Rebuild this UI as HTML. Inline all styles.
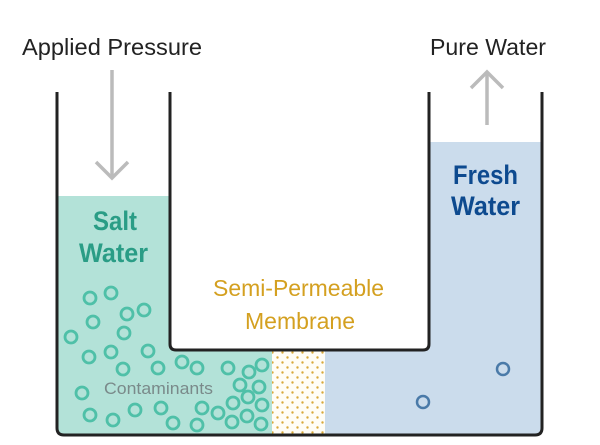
<!DOCTYPE html>
<html><head><style>body{margin:0;background:#fff}svg{display:block}text{font-family:"Liberation Sans Narrow","Liberation Sans",sans-serif}</style></head><body>
<svg width="600" height="445" viewBox="0 0 600 445">
<defs><pattern id="dots" width="10" height="10" patternUnits="userSpaceOnUse"><rect width="10" height="10" fill="#fffdf6"/><circle cx="2.5" cy="2.5" r="1.2" fill="#d9a93a"/><circle cx="7.5" cy="7.5" r="1.2" fill="#d9a93a"/></pattern></defs>
<rect x="58" y="196" width="214" height="238" fill="#b3e2d8"/>
<rect x="325" y="142" width="217" height="292" fill="#cbdcec"/>
<rect x="272" y="350" width="53" height="84" fill="url(#dots)"/>
<path d="M170,92 V344 Q170,350 176,350 H423 Q429,350 429,344 V92" fill="#fff" stroke="#222" stroke-width="3"/>
<path d="M57,92 V428 Q57,435 64,435 H535 Q542,435 542,428 V92" fill="none" stroke="#222" stroke-width="3"/>
<g fill="none" stroke="#4fc0a8" stroke-width="2.8">
<circle cx="90" cy="298" r="6"/><circle cx="111" cy="293" r="6"/><circle cx="127" cy="314" r="6"/><circle cx="144" cy="310" r="6"/><circle cx="93" cy="322" r="6"/><circle cx="124" cy="333" r="6"/><circle cx="71" cy="337" r="6"/><circle cx="89" cy="357" r="6"/><circle cx="111" cy="352" r="6"/><circle cx="148" cy="351" r="6"/><circle cx="123" cy="369" r="6"/><circle cx="158" cy="368" r="6"/><circle cx="182" cy="362" r="6"/><circle cx="197" cy="368" r="6"/><circle cx="228" cy="368" r="6"/><circle cx="249" cy="372" r="6"/><circle cx="262" cy="365" r="6"/><circle cx="82" cy="393" r="6"/><circle cx="240" cy="385" r="6"/><circle cx="259" cy="387" r="6"/><circle cx="248" cy="397" r="6"/><circle cx="233" cy="403" r="6"/><circle cx="262" cy="405" r="6"/><circle cx="90" cy="415" r="6"/><circle cx="113" cy="420" r="6"/><circle cx="135" cy="410" r="6"/><circle cx="161" cy="408" r="6"/><circle cx="173" cy="423" r="6"/><circle cx="202" cy="408" r="6"/><circle cx="218" cy="413" r="6"/><circle cx="197" cy="425" r="6"/><circle cx="232" cy="422" r="6"/><circle cx="247" cy="416" r="6"/><circle cx="261" cy="424" r="6"/>
</g>
<g fill="none" stroke="#4a7aa8" stroke-width="2.5"><circle cx="503" cy="369" r="6"/><circle cx="423" cy="402" r="6"/></g>
<g stroke="#bbb" stroke-width="3.5" fill="none"><path d="M112,70 V178"/><path d="M96,162 L112,178 L128,162"/><path d="M487,125 V72"/><path d="M471,88 L487,72 L503,88"/></g>
<text x="22" y="55" font-size="23" fill="#222" textLength="180" lengthAdjust="spacingAndGlyphs">Applied Pressure</text>
<text x="430" y="55" font-size="23" fill="#222" textLength="116" lengthAdjust="spacingAndGlyphs">Pure Water</text>
<text x="93" y="230" font-size="27" font-weight="bold" fill="#2a9d86" textLength="44" lengthAdjust="spacingAndGlyphs">Salt</text>
<text x="79" y="262" font-size="27" font-weight="bold" fill="#2a9d86" textLength="69" lengthAdjust="spacingAndGlyphs">Water</text>
<text x="453" y="184" font-size="27" font-weight="bold" fill="#0d4a8f" textLength="65" lengthAdjust="spacingAndGlyphs">Fresh</text>
<text x="451" y="215" font-size="27" font-weight="bold" fill="#0d4a8f" textLength="69" lengthAdjust="spacingAndGlyphs">Water</text>
<text x="213" y="296" font-size="23" fill="#d4a020" textLength="171" lengthAdjust="spacingAndGlyphs">Semi-Permeable</text>
<text x="245" y="329" font-size="23" fill="#d4a020" textLength="110" lengthAdjust="spacingAndGlyphs">Membrane</text>
<text x="104" y="394" font-size="17" fill="#7a8a8a" textLength="109" lengthAdjust="spacingAndGlyphs">Contaminants</text>
</svg>
</body></html>
